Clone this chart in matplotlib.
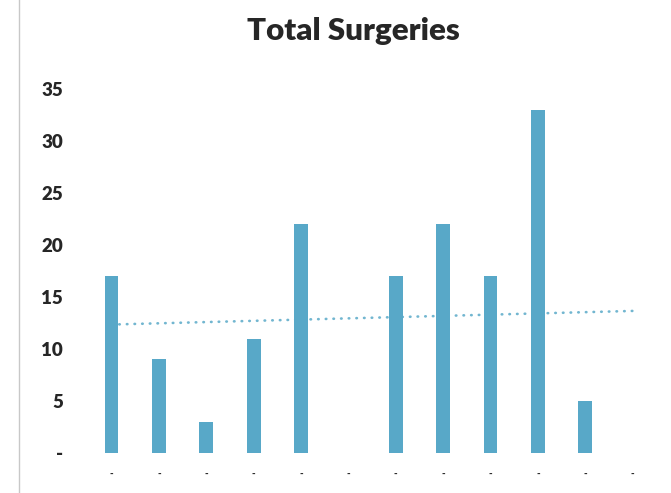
import numpy as np
import matplotlib
matplotlib.use("Agg")
import matplotlib.pyplot as plt
from matplotlib.lines import Line2D

# Monthly surgery counts
categories = ["-"] * 12
surgeries = [17, 9, 3, 11, 22, 0, 17, 22, 17, 33, 5, 0]
y_ticks = [0, 5, 10, 15, 20, 25, 30, 35]
y_tick_labels = ["-", "5", "10", "15", "20", "25", "30", "35"]

bar_color = "#58a8c8"
text_color = "#262626"

plt.rcParams["font.family"] = ["Lato", "DejaVu Sans"]

fig = plt.figure(figsize=(6.71, 4.93), dpi=100)
ax = fig.add_axes([0.131, 0.0811, 0.847, 0.781])

x = np.arange(1, len(surgeries) + 1)
ax.bar(x, surgeries, width=0.29, color=bar_color, zorder=3)

# Linear trendline across all categories
coef = np.polyfit(x, surgeries, 1)
trend = np.polyval(coef, x)
ax.plot(x, trend, color="#72b6d0", lw=1.9, linestyle=(0, (0.2, 2.7)),
        dash_capstyle="round", zorder=2)

ax.set_xlim(0.5, len(surgeries) + 0.5)
ax.set_ylim(0, 37)
ax.set_yticks(y_ticks)
ax.set_yticklabels(y_tick_labels, fontsize=13.5, fontweight="heavy", color=text_color)
ax.set_xticks(x)
ax.set_xticklabels(categories, fontsize=7, fontweight="heavy", color=text_color)
ax.tick_params(axis="y", length=0, pad=18)
ax.tick_params(axis="x", length=0, pad=12)
for s in ax.spines.values():
    s.set_visible(False)

fig.text(0.526, 0.937, "Total Surgeries", ha="center", va="center",
         fontsize=22.5, fontweight="heavy", color=text_color)

# Page edge rule on the left
fig.add_artist(Line2D([19 / 671, 19 / 671], [0, 1], color="#c8c8c8", lw=1.0))

fig.savefig("out.png", dpi=100, facecolor="white")
